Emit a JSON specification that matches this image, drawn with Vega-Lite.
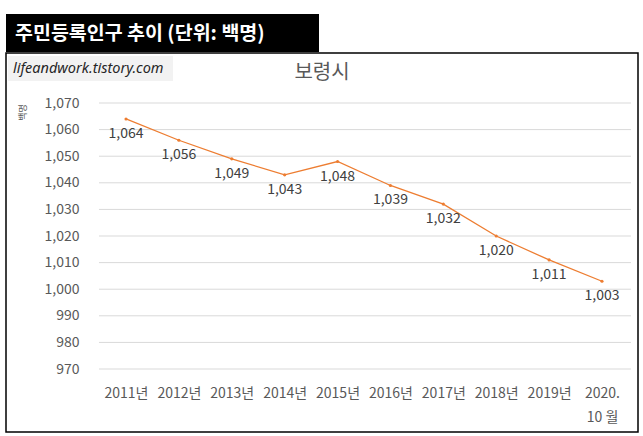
{
  "$schema": "https://vega.github.io/schema/vega-lite/v6.json",
  "background": "white",
  "padding": {"left": 5, "top": 14, "right": 6, "bottom": 5},
  "config": {"font": "Noto Sans CJK KR", "concat": {"spacing": 0}},
  "datasets": {
    "population": [
      {"year": 2011, "value": 1064},
      {"year": 2012, "value": 1056},
      {"year": 2013, "value": 1049},
      {"year": 2014, "value": 1043},
      {"year": 2015, "value": 1048},
      {"year": 2016, "value": 1039},
      {"year": 2017, "value": 1032},
      {"year": 2018, "value": 1020},
      {"year": 2019, "value": 1011},
      {"year": 2020, "value": 1003}
    ],
    "grid": [
      {"tick": 970}, {"tick": 980}, {"tick": 990}, {"tick": 1000}, {"tick": 1010}, {"tick": 1020},
      {"tick": 1030}, {"tick": 1040}, {"tick": 1050}, {"tick": 1060}, {"tick": 1070}
    ],
    "site": [{"site": "lifeandwork.tistory.com"}]
  },
  "vconcat": [
    {
      "width": 313,
      "height": 38,
      "view": {"fill": "black", "stroke": null},
      "title": {
        "text": "주민등록인구 추이 (단위: 백명)",
        "anchor": "start", "offset": -30, "dx": 9,
        "color": "white", "fontSize": 19.5, "fontWeight": "bold"
      },
      "data": {"values": []},
      "mark": "text"
    },
    {
      "width": 632,
      "height": 379,
      "view": {"fill": "white", "stroke": "black", "strokeWidth": 1.5},
      "title": {
        "text": "보령시",
        "anchor": "middle", "offset": -30,
        "color": "#595959", "fontSize": 20, "fontWeight": "normal"
      },
      "layer": [
        {
          "data": {"name": "site"},
          "mark": {"type": "rect", "color": "#f2f2f2"},
          "encoding": {
            "x": {"datum": 2008.769, "type": "quantitative"},
            "x2": {"datum": 2011.889},
            "y": {"datum": 1087.67, "type": "quantitative"},
            "y2": {"datum": 1078.27}
          }
        },
        {
          "data": {"name": "site"},
          "mark": {"type": "text", "align": "left", "baseline": "middle", "font": "Noto Sans", "fontStyle": "italic", "fontSize": 14.5, "color": "#262626"},
          "encoding": {
            "x": {"datum": 2008.863, "type": "quantitative"},
            "y": {"datum": 1082.97, "type": "quantitative"},
            "text": {"field": "site"}
          }
        },
        {
          "data": {"name": "grid"},
          "mark": {"type": "rule", "color": "#d9d9d9", "strokeWidth": 1},
          "encoding": {
            "x": {"datum": 2010.489, "type": "quantitative"},
            "x2": {"datum": 2020.548},
            "y": {"field": "tick", "type": "quantitative"}
          }
        },
        {
          "data": {"name": "population"},
          "mark": {"type": "line", "color": "#ed7d31", "strokeWidth": 1.3},
          "encoding": {
            "x": {
              "field": "year", "type": "quantitative",
              "scale": {"domain": [2008.731, 2020.681], "nice": false, "zero": false},
              "axis": {
                "title": null,
                "values": [2011, 2012, 2013, 2014, 2015, 2016, 2017, 2018, 2019, 2020],
                "tickCount": 20,
                "labelExpr": "datum.value == 2020 ? ['2020.', '10 월'] : datum.value + '년'",
                "offset": -46, "labelPadding": 0, "ticks": false, "domain": false, "grid": false,
                "labelFontSize": 14, "labelColor": "#595959", "labelLineHeight": 24,
                "labelBaseline": "top", "labelOverlap": false, "labelFlush": false
              }
            },
            "y": {
              "field": "value", "type": "quantitative",
              "scale": {"domain": [946.32, 1088.8], "nice": false, "zero": false},
              "axis": {
                "title": "백명",
                "values": [970, 980, 990, 1000, 1010, 1020, 1030, 1040, 1050, 1060, 1070],
                "tickCount": 20,
                "format": ",d",
                "offset": -75, "labelPadding": 2, "ticks": false, "domain": false, "grid": false,
                "labelFontSize": 14, "labelColor": "#595959", "labelFlush": false, "labelOverlap": false,
                "titleFontSize": 9, "titleFontWeight": "normal", "titleColor": "#595959",
                "titleAngle": -90, "titleX": -59, "titleY": 59,
                "titleAlign": "center", "titleBaseline": "middle"
              }
            }
          }
        },
        {
          "data": {"name": "population"},
          "mark": {"type": "point", "filled": true, "size": 10, "color": "#ed7d31", "opacity": 1},
          "encoding": {
            "x": {"field": "year", "type": "quantitative"},
            "y": {"field": "value", "type": "quantitative"}
          }
        },
        {
          "data": {"name": "population"},
          "mark": {"type": "text", "dy": 15, "fontSize": 14, "color": "#404040", "baseline": "middle"},
          "encoding": {
            "x": {"field": "year", "type": "quantitative"},
            "y": {"field": "value", "type": "quantitative"},
            "text": {"field": "value", "type": "quantitative", "format": ",d"}
          }
        }
      ]
    }
  ]
}
